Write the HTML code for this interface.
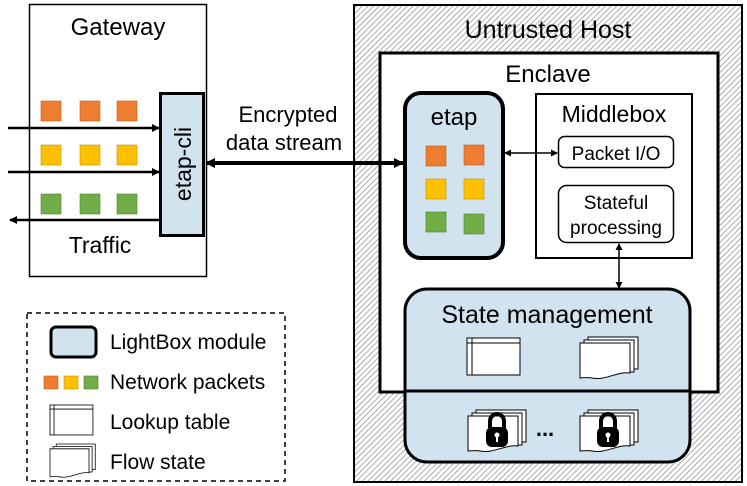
<!DOCTYPE html>
<html><head><meta charset="utf-8"><style>
body{margin:0;background:#fff}
svg{display:block}
text{font-family:"Liberation Sans",sans-serif;fill:#000}
</style></head><body>
<svg width="747" height="486" viewBox="0 0 747 486" xmlns="http://www.w3.org/2000/svg">
<defs>
<pattern id="h" width="4" height="4" patternUnits="userSpaceOnUse" patternTransform="rotate(45)">
<rect width="4" height="4" fill="#fff"/><line x1="0" y1="0" x2="0" y2="4" stroke="#8a8a8a" stroke-width="1.4"/>
</pattern>
<marker id="a" markerWidth="8" markerHeight="8" refX="7" refY="4" orient="auto-start-reverse" markerUnits="userSpaceOnUse"><path d="M0,0 L8,4 L0,8z"/></marker>
<marker id="b" markerWidth="10" markerHeight="10" refX="9" refY="5" orient="auto-start-reverse" markerUnits="userSpaceOnUse"><path d="M0,0 L10,5 L0,10z"/></marker>
<marker id="s" markerWidth="7" markerHeight="7" refX="6" refY="3.5" orient="auto-start-reverse" markerUnits="userSpaceOnUse"><path d="M0,0 L7,3.5 L0,7z"/></marker>
<g id="lt"><rect x="0" y="0" width="53" height="37" fill="#fff" stroke="#000" stroke-width="1"/><line x1="0" y1="5" x2="53" y2="5" stroke="#000"/><line x1="5" y1="0" x2="5" y2="37" stroke="#000"/></g>
<g id="fs"><path d="M8,0 H58 V32 H8z" fill="#fff" stroke="#000"/><path d="M4,3 H54 V35 H4z" fill="#fff" stroke="#000"/><path d="M0,6 H50 V36 C38,34 25,44 12,41 C7,40 3,41 0,41z" fill="#fff" stroke="#000"/></g>
<g id="lk"><path d="M-7,0 V-7 A7,7 0 0 1 7,-7 V0" fill="none" stroke="#000" stroke-width="4"/><rect x="-11" y="-1" width="22" height="20" rx="6" fill="#000"/><circle cx="0" cy="7" r="2.5" fill="#fff"/><rect x="-1" y="8" width="2" height="6" fill="#fff"/></g>
</defs>

<!-- Gateway -->
<rect x="29.5" y="4.5" width="177" height="272" fill="#fff" stroke="#000" stroke-width="1.5"/>
<text x="118" y="35" font-size="24" text-anchor="middle">Gateway</text>
<text x="100" y="253" font-size="23" text-anchor="middle">Traffic</text>
<g stroke="#c55a11" stroke-width="0.6" fill="#ed7d31">
<rect x="41" y="101" width="20" height="20"/><rect x="80" y="101" width="20" height="20"/><rect x="117" y="101" width="20" height="20"/></g>
<g stroke="#bf9000" stroke-width="0.6" fill="#ffc000">
<rect x="41" y="145" width="20" height="20"/><rect x="80" y="145" width="20" height="20"/><rect x="117" y="145" width="20" height="20"/></g>
<g stroke="#507e32" stroke-width="0.6" fill="#70ad47">
<rect x="41" y="194" width="20" height="20"/><rect x="80" y="194" width="20" height="20"/><rect x="117" y="194" width="20" height="20"/></g>
<line x1="8" y1="128" x2="159" y2="128" stroke="#000" stroke-width="2.5" marker-end="url(#a)"/>
<line x1="8" y1="172" x2="159" y2="172" stroke="#000" stroke-width="2.5" marker-end="url(#a)"/>
<line x1="159" y1="220" x2="10" y2="220" stroke="#000" stroke-width="2.5" marker-end="url(#a)"/>
<rect x="160.5" y="93.5" width="43" height="142" fill="#d0e3ef" stroke="#000" stroke-width="3"/>
<text transform="translate(191,164) rotate(-90)" font-size="23" text-anchor="middle">etap-cli</text>

<!-- Encrypted stream -->
<text x="288" y="122" font-size="22" text-anchor="middle">Encrypted</text>
<text x="284" y="150" font-size="22" text-anchor="middle">data stream</text>

<!-- Untrusted host -->
<rect x="354" y="5" width="388" height="477" fill="url(#h)" stroke="#000" stroke-width="2"/>
<text x="548" y="38" font-size="25" text-anchor="middle">Untrusted Host</text>
<rect x="380" y="53" width="338" height="339" fill="#fff" stroke="#000" stroke-width="3"/>
<text x="548" y="82" font-size="24" text-anchor="middle">Enclave</text>
<line x1="206" y1="163" x2="403" y2="163" stroke="#000" stroke-width="4" marker-start="url(#b)" marker-end="url(#b)"/>

<!-- etap -->
<rect x="405" y="93" width="98" height="165" rx="16" fill="#d0e3ef" stroke="#000" stroke-width="4"/>
<text x="454" y="125" font-size="24" text-anchor="middle">etap</text>
<rect x="426" y="146" width="20" height="20" fill="#ed7d31" stroke="#c55a11" stroke-width="0.6"/>
<rect x="464" y="145" width="20" height="20" fill="#ed7d31" stroke="#c55a11" stroke-width="0.6"/>
<rect x="426" y="179" width="20" height="20" fill="#ffc000" stroke="#bf9000" stroke-width="0.6"/>
<rect x="464" y="179" width="20" height="20" fill="#ffc000" stroke="#bf9000" stroke-width="0.6"/>
<rect x="426" y="212" width="20" height="20" fill="#70ad47" stroke="#507e32" stroke-width="0.6"/>
<rect x="464" y="214" width="20" height="20" fill="#70ad47" stroke="#507e32" stroke-width="0.6"/>

<!-- Middlebox -->
<rect x="536" y="94" width="156" height="164" fill="#fff" stroke="#000" stroke-width="2"/>
<text x="614" y="122" font-size="23" text-anchor="middle">Middlebox</text>
<rect x="558.5" y="136.5" width="115" height="31" rx="6" fill="#fff" stroke="#000" stroke-width="1.5"/>
<text x="616" y="160" font-size="19" text-anchor="middle">Packet I/O</text>
<rect x="558.5" y="185.5" width="115" height="57" rx="8" fill="#fff" stroke="#000" stroke-width="1.5"/>
<text x="616" y="209" font-size="19" text-anchor="middle">Stateful</text>
<text x="616" y="234" font-size="19" text-anchor="middle">processing</text>
<line x1="505" y1="153" x2="557" y2="153" stroke="#000" stroke-width="1.5" marker-start="url(#s)" marker-end="url(#s)"/>
<line x1="619" y1="244" x2="619" y2="288" stroke="#000" stroke-width="1.5" marker-start="url(#s)" marker-end="url(#s)"/>

<!-- State management -->
<rect x="405" y="289" width="285" height="173" rx="22" fill="#d0e3ef" stroke="#000" stroke-width="3"/>
<line x1="405" y1="391" x2="690" y2="391" stroke="#000" stroke-width="3"/>
<text x="547" y="323" font-size="25" text-anchor="middle">State management</text>
<use href="#lt" x="467" y="338"/>
<use href="#fs" x="580" y="337"/>
<use href="#fs" x="468" y="410"/>
<use href="#fs" x="580" y="410"/>
<use href="#lk" x="497" y="428"/>
<use href="#lk" x="608" y="428"/>
<text x="545" y="436" font-size="22" font-weight="bold" text-anchor="middle">...</text>

<!-- Legend -->
<rect x="27" y="313" width="258" height="168" fill="none" stroke="#000" stroke-width="1.5" stroke-dasharray="5,4"/>
<rect x="51" y="327" width="45" height="30" rx="5" fill="#d0e3ef" stroke="#000" stroke-width="3"/>
<text x="110" y="349" font-size="21">LightBox module</text>
<rect x="44" y="376" width="14" height="13" fill="#ed7d31" stroke="#c55a11" stroke-width="0.6"/>
<rect x="64" y="376" width="14" height="13" fill="#ffc000" stroke="#bf9000" stroke-width="0.6"/>
<rect x="84" y="376" width="14" height="13" fill="#70ad47" stroke="#507e32" stroke-width="0.6"/>
<text x="110" y="389" font-size="21">Network packets</text>
<g transform="translate(50,405) scale(0.81)"><use href="#lt"/></g>
<text x="110" y="429" font-size="21">Lookup table</text>
<g transform="translate(50,444) scale(0.78,0.8)"><use href="#fs"/></g>
<text x="110" y="469" font-size="21">Flow state</text>
</svg>
</body></html>
